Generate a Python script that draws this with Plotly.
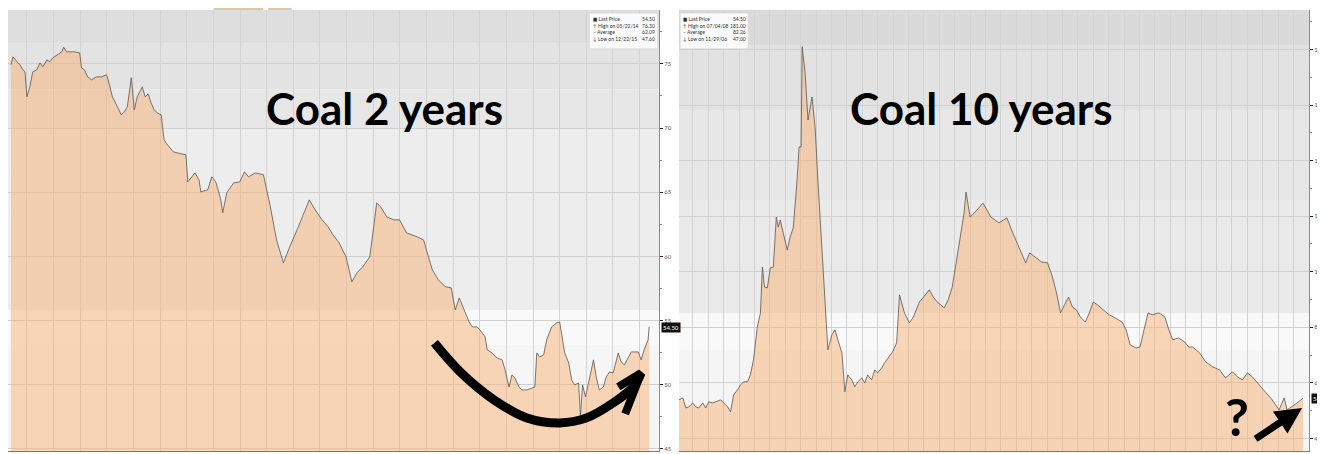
import plotly.graph_objects as go

# ---------------- data ----------------
# Coal, 2 years: x = months from first grid month, y = price
months_2y = [-0.60, -0.52, -0.37, -0.26, -0.15, -0.07, 0.00, 0.11, 0.22, 0.37, 0.49, 0.60, 0.75, 0.86, 0.97,
             1.16, 1.31, 1.38, 1.49, 1.60, 1.79, 1.98, 2.05, 2.16, 2.28, 2.43, 2.61, 2.80, 2.99, 3.10, 3.21,
             3.40, 3.54, 3.66, 3.77, 3.92, 4.03, 4.14, 4.33, 4.44, 4.55, 4.66, 4.78, 4.89, 5.04, 5.15, 5.22,
             5.49, 5.97, 6.04, 6.31, 6.46, 6.53, 6.79, 6.94, 7.09, 7.28, 7.35, 7.50, 7.76, 7.99, 8.17, 8.32,
             8.58, 8.88, 9.14, 9.37, 9.63, 9.85, 10.19, 10.34, 10.60, 10.82, 11.08, 11.31, 11.49, 11.72, 11.98,
             12.20, 12.39, 12.61, 12.87, 13.02, 13.13, 13.28, 13.51, 13.77, 13.99, 14.25, 14.48, 14.66, 14.89,
             15.04, 15.22, 15.45, 15.71, 15.93, 16.08, 16.23, 16.34, 16.46, 16.60, 16.72, 16.90, 17.01, 17.20,
             17.28, 17.46, 17.65, 17.84, 17.95, 18.10, 18.21, 18.32, 18.47, 18.58, 18.77, 18.96, 19.07, 19.14,
             19.25, 19.40, 19.51, 19.70, 19.89, 20.00, 20.07, 20.19, 20.34, 20.45, 20.56, 20.71, 20.78, 20.86,
             20.97, 21.12, 21.27, 21.38, 21.49, 21.64, 21.75, 21.87, 22.01, 22.20, 22.31, 22.43, 22.57, 22.69,
             22.80, 22.95, 23.06, 23.17, 23.32, 23.36]
price_2y = [74.93, 75.55, 75.16, 74.93, 74.54, 74.38, 72.43, 73.21, 74.38, 74.54, 75.08, 74.77, 75.32, 75.16, 75.47,
            75.71, 75.94, 76.30, 75.94, 75.94, 75.94, 75.86, 74.70, 74.54, 73.99, 73.76, 73.99, 73.99, 74.15, 73.37,
            72.43, 71.66, 71.03, 71.27, 71.66, 73.92, 71.42, 72.43, 73.21, 72.43, 72.67, 71.97, 71.42, 71.19, 71.03,
            69.08, 68.85, 68.15, 67.91, 65.81, 66.51, 65.97, 65.03, 65.19, 66.20, 65.81, 64.41, 63.39, 64.95, 65.73,
            65.81, 66.59, 66.20, 66.51, 66.36, 63.86, 61.29, 59.50, 60.67, 62.30, 63.08, 64.41, 63.63, 62.85, 62.30,
            61.68, 61.06, 59.96, 58.02, 58.72, 59.19, 59.96, 62.30, 64.17, 63.86, 63.08, 62.85, 62.85, 61.84, 61.68,
            61.52, 61.29, 60.28, 58.95, 58.17, 57.63, 57.55, 55.83, 56.77, 56.22, 55.60, 54.90, 54.51, 54.51, 54.27,
            53.73, 52.72, 52.48, 52.09, 51.94, 51.16, 49.83, 50.77, 50.53, 49.83, 49.60, 49.60, 49.75, 49.83, 52.48,
            52.17, 52.33, 53.50, 54.51, 54.82, 54.90, 54.04, 52.48, 51.70, 50.38, 49.99, 50.14, 47.60, 49.99, 49.05,
            50.61, 51.94, 50.53, 49.60, 49.83, 50.61, 51.00, 50.92, 52.48, 51.78, 51.55, 52.09, 52.56, 52.56, 52.56,
            51.94, 52.72, 53.50, 54.50]

# Coal, 10 years: x = quarters from first grid quarter, y = price
quarters_10y = [-0.90, -0.65, -0.45, -0.26, 0.00, 0.19, 0.39, 0.65, 0.84, 1.03, 1.29, 1.48, 1.81, 2.00, 2.26, 2.45,
                2.65, 2.90, 3.10, 3.29, 3.55, 3.74, 3.94, 4.19, 4.39, 4.52, 4.65, 4.84, 5.03, 5.23, 5.42, 5.55,
                5.68, 5.87, 6.13, 6.32, 6.52, 6.77, 6.90, 7.03, 7.10, 7.29, 7.48, 7.74, 7.94, 8.13, 8.39, 8.58,
                8.77, 9.03, 9.23, 9.42, 9.68, 9.87, 10.06, 10.32, 10.52, 10.71, 10.97, 11.16, 11.35, 11.61, 11.81,
                12.00, 12.26, 12.45, 12.71, 12.97, 13.23, 13.42, 13.74, 14.06, 14.32, 14.71, 15.10, 15.35, 15.61,
                15.87, 16.32, 16.58, 16.84, 17.10, 17.35, 17.61, 17.74, 18.00, 18.26, 18.58, 18.84, 19.10, 19.35,
                19.87, 20.13, 20.39, 20.77, 21.23, 21.61, 21.87, 22.26, 22.65, 23.03, 23.35, 23.61, 23.87, 24.13,
                24.39, 24.65, 24.90, 25.16, 25.48, 25.74, 26.00, 26.26, 26.65, 27.03, 27.42, 27.87, 28.13, 28.39,
                28.77, 29.03, 29.29, 29.55, 29.81, 30.26, 30.65, 30.90, 31.16, 31.55, 31.94, 32.19, 32.45, 32.90,
                33.29, 33.74, 34.19, 34.58, 35.03, 35.35, 35.68, 36.00, 36.32, 36.77, 37.16, 37.61, 38.06, 38.39,
                38.58, 38.90, 39.23, 39.61]
price_10y = [53.9, 54.6, 51.0, 51.4, 52.8, 51.4, 51.0, 52.8, 51.0, 53.2, 52.8, 53.2, 53.9, 52.8, 51.4, 49.6,
             55.7, 57.5, 59.3, 60.4, 60.4, 62.9, 68.3, 80.1, 85.2, 101.7, 94.5, 94.2, 101.4, 101.7, 119.7, 116.1,
             118.6, 114.0, 107.8, 112.5, 115.8, 133.0, 144.9, 144.9, 181.0, 171.5, 154.6, 162.9, 152.1, 131.9, 106.8, 90.9,
             71.9, 77.3, 79.1, 75.5, 70.8, 56.8, 62.9, 61.1, 58.6, 60.4, 61.8, 60.0, 62.9, 61.1, 64.7,
             63.6, 65.4, 67.2, 69.0, 71.2, 74.4, 91.7, 85.2, 81.6, 83.7, 89.1, 91.7, 93.5, 90.9,
             89.1, 87.0, 89.9, 94.5, 103.2, 111.4, 121.1, 128.7, 119.7, 121.1, 123.3, 124.7, 122.2, 119.7,
             117.6, 118.6, 119.4, 114.0, 107.8, 103.2, 106.8, 105.3, 103.5, 103.2, 98.1, 92.4, 85.2, 88.1,
             90.9, 87.3, 86.3, 83.7, 81.9, 85.2, 89.1, 88.1, 86.3, 84.5, 83.4, 81.9, 79.1, 73.7,
             72.6, 72.9, 79.1, 85.2, 84.5, 85.2, 83.7, 79.1, 75.5, 76.2, 74.7, 72.9, 72.9, 70.8,
             67.6, 65.8, 64.7, 61.8, 64.0, 62.2, 61.1, 63.6, 62.2, 59.3, 56.8, 53.9, 50.3, 54.6,
             50.3, 51.4, 52.8, 54.5]

legend_labels_2y = ["Last Price", "High on 05/22/14", "Average", "Low on 12/22/15"]
legend_values_2y = ["54.50", "76.30", "62.09", "47.60"]
legend_labels_10y = ["Last Price", "High on 07/04/08", "Average", "Low on 11/29/06"]
legend_values_10y = ["54.50", "181.00", "82.26", "47.00"]
legend_marks = ["■", "↑", "–", "↓"]

last_price = 54.50
ticks_2y = [45, 50, 55, 60, 65, 70, 75]
ticks_10y = [40, 60, 80, 100, 120, 140, 160, 180]

# ---------------- styles ----------------
LINE = dict(color="#5c5652", width=0.8)
FILL = "rgba(250,178,120,0.50)"
TITLE_FAMILY = "Lato, Open Sans, sans-serif"
SMALL_FAMILY = "Lato, DejaVu Sans Condensed, sans-serif"

# background bands (value ranges -> grey level)
bands_2y = [(76.6, 80, "#dedede"), (73.0, 76.6, "#e3e3e3"), (69.9, 73.0, "#e7e7e7"),
            (55.8, 69.9, "#ededed"), (53.1, 55.8, "#f9f9f9"), (40, 53.1, "#f6f6f6")]
bands_10y = [(181.6, 200, "#dadada"), (158.2, 181.6, "#e2e2e2"), (125.8, 158.2, "#e7e7e7"),
             (85.2, 125.8, "#eaeaea"), (71.9, 85.2, "#f9f9f9"), (30, 71.9, "#f5f5f5")]

fig = go.Figure()

fig.add_trace(go.Scatter(x=months_2y, y=price_2y, mode="lines", line=LINE, fill="tozeroy",
                         fillcolor=FILL, xaxis="x", yaxis="y", hoverinfo="skip", showlegend=False))
fig.add_trace(go.Scatter(x=quarters_10y, y=price_10y, mode="lines", line=LINE, fill="tozeroy",
                         fillcolor=FILL, xaxis="x2", yaxis="y2", hoverinfo="skip", showlegend=False))

# hand-drawn curved arrow (left panel)
fig.add_trace(go.Scatter(x=[15.30, 16.27, 17.54, 18.77, 20.00, 21.01, 22.01, 22.76, 23.06],
                         y=[53.26, 51.00, 48.82, 47.42, 47.03, 47.42, 48.59, 49.83, 50.92],
                         mode="lines", line=dict(color="black", width=9, shape="spline"),
                         xaxis="x", yaxis="y", hoverinfo="skip", showlegend=False))
fig.add_trace(go.Scatter(x=[22.20, 23.06, 22.46], y=[49.83, 50.92, 47.73],
                         mode="lines", line=dict(color="black", width=8),
                         xaxis="x", yaxis="y", hoverinfo="skip", showlegend=False))

shapes = []
for lo, hi, c in bands_2y:
    shapes.append(dict(type="rect", xref="x domain", yref="y", x0=0, x1=1, y0=lo, y1=hi,
                       fillcolor=c, line_width=0, layer="below"))
for lo, hi, c in bands_10y:
    shapes.append(dict(type="rect", xref="x2 domain", yref="y2", x0=0, x1=1, y0=lo, y1=hi,
                       fillcolor=c, line_width=0, layer="below"))

# legend boxes
shapes.append(dict(type="rect", xref="x domain", yref="y domain", x0=0.893, x1=0.998, y0=0.912, y1=0.993,
                   fillcolor="rgba(255,255,255,0.85)", line=dict(color="#cccccc", width=0.5)))
shapes.append(dict(type="rect", xref="x2 domain", yref="y2 domain", x0=0.002, x1=0.110, y0=0.912, y1=0.993,
                   fillcolor="rgba(255,255,255,0.85)", line=dict(color="#cccccc", width=0.5)))
# tan strips at the very top
shapes.append(dict(type="rect", xref="paper", yref="paper", x0=0.158, x1=0.196, y0=1.0, y1=1.007,
                   fillcolor="#dcc9a2", line_width=0))
shapes.append(dict(type="rect", xref="paper", yref="paper", x0=0.200, x1=0.218, y0=1.0, y1=1.007,
                   fillcolor="#dcc9a2", line_width=0))

annotations = []
title_font = dict(family=TITLE_FAMILY, size=44, color="black")
annotations.append(dict(text="<b>Coal 2 years</b>", xref="x domain", yref="y domain", x=0.579, y=0.778,
                        showarrow=False, font=title_font, xanchor="center", yanchor="middle"))
annotations.append(dict(text="<b>Coal 10 years</b>", xref="x2 domain", yref="y2 domain", x=0.481, y=0.778,
                        showarrow=False, font=title_font, xanchor="center", yanchor="middle"))

leg_font = dict(family=SMALL_FAMILY, size=5, color="#333333")
lab2 = "<br>".join(m + " " + t for m, t in zip(legend_marks, legend_labels_2y))
lab10 = "<br>".join(m + " " + t for m, t in zip(legend_marks, legend_labels_10y))
annotations.append(dict(text=lab2, xref="x domain", yref="y domain", x=0.895, y=0.99, xanchor="left",
                        yanchor="top", align="left", showarrow=False, font=leg_font))
annotations.append(dict(text="<br>".join(legend_values_2y), xref="x domain", yref="y domain", x=0.997, y=0.99,
                        xanchor="right", yanchor="top", align="right", showarrow=False, font=leg_font))
annotations.append(dict(text=lab10, xref="x2 domain", yref="y2 domain", x=0.004, y=0.99, xanchor="left",
                        yanchor="top", align="left", showarrow=False, font=leg_font))
annotations.append(dict(text="<br>".join(legend_values_10y), xref="x2 domain", yref="y2 domain", x=0.109,
                        y=0.99, xanchor="right", yanchor="top", align="right", showarrow=False, font=leg_font))

# last price tags
for xr, yr in (("x domain", "y"), ("x2 domain", "y2")):
    annotations.append(dict(text=f"{last_price:.2f}", xref=xr, yref=yr, x=1.0, y=last_price, xanchor="left",
                            yanchor="middle", xshift=2, showarrow=False, bgcolor="#111111", borderpad=1,
                            font=dict(family=SMALL_FAMILY, size=6, color="white")))

# right panel "?" and arrow
annotations.append(dict(text="<b>?</b>", xref="x2", yref="y2", x=35.35, y=48.0, showarrow=False,
                        font=dict(family=TITLE_FAMILY, size=52, color="black"), xanchor="center", yanchor="middle"))
annotations.append(dict(text="", xref="x2", yref="y2", x=39.55, y=51.0, ax=-48, ay=32, showarrow=True,
                        arrowhead=2, arrowsize=0.75, arrowwidth=7, arrowcolor="black"))

axis_common = dict(showgrid=True, gridcolor="#d3d3d3", gridwidth=1, zeroline=False,
                   showticklabels=False, ticks="", showline=True, linecolor="#777777", linewidth=1)
ytick_font = dict(family=SMALL_FAMILY, size=6, color="#555555")

# the page body adds an 8px offset, so the figure is sized/margined to land on the reference pixels
fig.update_layout(
    width=1317, height=446,
    margin=dict(l=0, r=8, t=2, b=3),
    paper_bgcolor="white", plot_bgcolor="white",
    xaxis=dict(domain=[0, 0.5004], range=[-0.71, 23.73], tick0=0, dtick=1, anchor="y", **axis_common),
    xaxis2=dict(domain=[0.5157, 1], range=[-0.90, 40.0], tick0=0, dtick=1, anchor="y2", **axis_common),
    yaxis=dict(domain=[0, 1], range=[44.84, 79.2], side="right", anchor="x", tickvals=ticks_2y,
               showgrid=True, gridcolor="#cfcfcf", zeroline=False, ticks="outside", ticklen=3,
               tickcolor="#222222", tickfont=ytick_font, showline=True, linecolor="#8a8a8a",
               minor=dict(ticks="outside", ticklen=2, dtick=2.5, tick0=45, tickcolor="#888888", showgrid=False)),
    yaxis2=dict(domain=[0, 1], range=[35.5, 194.2], side="right", anchor="x2", tickvals=ticks_10y,
                showgrid=True, gridcolor="#cfcfcf", zeroline=False, ticks="outside", ticklen=3,
                tickcolor="#222222", tickfont=ytick_font, showline=True, linecolor="#8a8a8a",
                minor=dict(ticks="outside", ticklen=2, dtick=10, tick0=40, tickcolor="#888888", showgrid=False)),
    shapes=shapes,
    annotations=annotations,
)

fig.write_html("out.html")
